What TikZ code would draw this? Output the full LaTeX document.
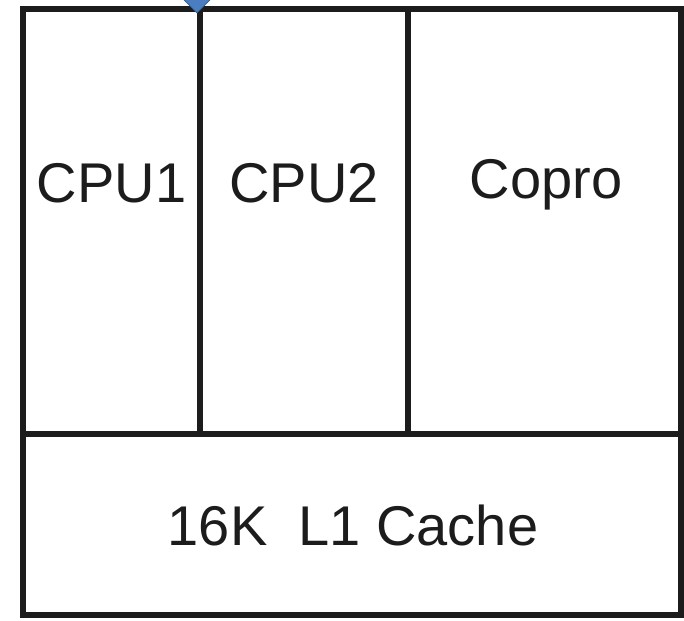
\documentclass[tikz,border=0pt]{standalone}
\usepackage{fontspec}
\setmainfont{Liberation Sans}
\usetikzlibrary{shapes.geometric}
\definecolor{edgegray}{RGB}{28,28,28}
\definecolor{markblue}{RGB}{74,126,193}
\definecolor{markedge}{RGB}{48,92,150}

\begin{document}
\begin{tikzpicture}[x=1pt,y=-1pt,
    wall/.style={draw=edgegray, line width=5.5pt},
    label/.style={anchor=base, inner sep=0pt, font=\fontsize{56}{60}\selectfont, text=edgegray}]
    \useasboundingbox (0,0) rectangle (684,620);

    %Outline
    \coordinate (NW) at (23,9);
    \coordinate (SE) at (681,615);
    \coordinate (Wmid) at (23,434);
    \coordinate (Emid) at (681,434);
    \coordinate (Atop) at (200,9);
    \coordinate (Abot) at (200,434);
    \coordinate (Btop) at (408,9);
    \coordinate (Bbot) at (408,434);
    \draw[wall, line join=miter] (NW) rectangle (SE);
    \draw[wall] (Wmid) -- (Emid);
    \draw[wall] (Atop) -- (Abot);
    \draw[wall] (Btop) -- (Bbot);

    % Labels
    \node[label] (cpua) at (111.5,203) {CPU1};
    \node[label] (cpub) at (304,203) {CPU2};
    \node[label] (copro) at (546,199) {Copro};
    \node[label] (cache) at (353,545) {16K\ \ L1 Cache};

    % marker
    \node[diamond, draw=markedge, fill=markblue, line width=0.8pt,
          minimum width=28pt, minimum height=28pt, inner sep=0pt] (mark) at (197,-1) {};
\end{tikzpicture}
\end{document}
